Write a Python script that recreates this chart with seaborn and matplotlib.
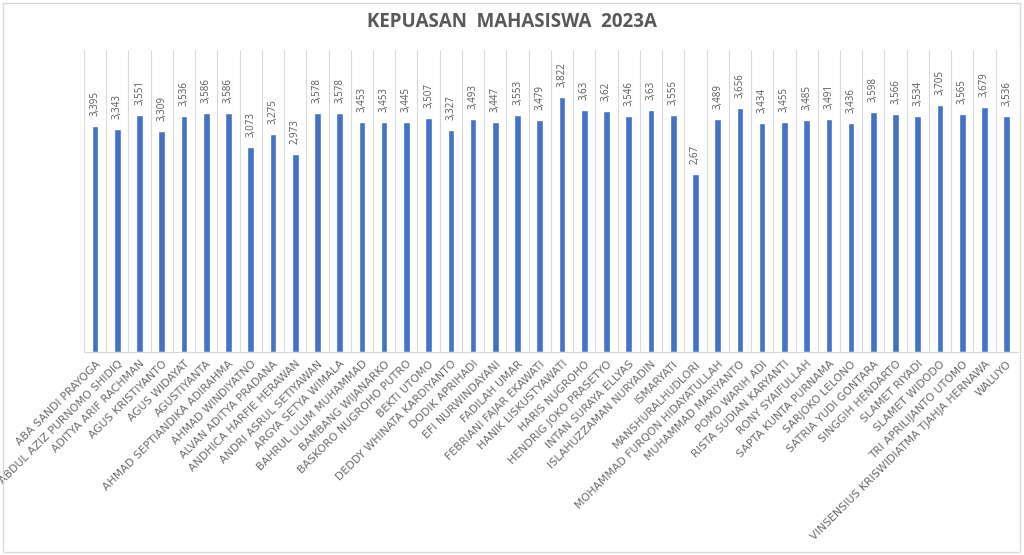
import numpy as np
import pandas as pd
import seaborn as sns
import matplotlib.pyplot as plt
from matplotlib.patches import Rectangle

# data
names = [
    "ABA SANDI PRAYOGA", "ABDUL AZIZ PURNOMO SHIDIQ", "ADITYA ARIF RACHMAN",
    "AGUS KRISTIYANTO", "AGUS WIDAYAT", "AGUSTIYANTA",
    "AHMAD SEPTIANDIKA ADIRAHMA", "AHMAD WINDIYATNO", "ALVAN ADITYA PRADANA",
    "ANDHICA HARFIE HERAWAN", "ANDRI ASRUL SETIYAWAN", "ARGYA SETYA WIMALA",
    "BAHRUL ULUM MUHAMMAD", "BAMBANG WIJANARKO", "BASKORO NUGROHO PUTRO",
    "BEKTI UTOMO", "DEDDY WHINATA KARDIYANTO", "DODIK APRIHADI",
    "EFI NURWINDAYANI", "FADILAH UMAR", "FEBRIANI FAJAR EKAWATI",
    "HANIK LISKUSTYAWATI", "HARIS NUGROHO", "HENDRIG JOKO PRASETYO",
    "INTAN SURAYA ELLYAS", "ISLAHUZZAMAN NURYADIN", "ISMARYATI",
    "MANSHURALHUDLORI", "MOHAMMAD FURQON HIDAYATULLAH", "MUHAMMAD MARIYANTO",
    "POMO WARIH ADI", "RISTA SUDIAN KARYANTI", "RONY SYAIFULLAH",
    "SAPTA KUNTA PURNAMA", "SARJOKO LELONO", "SATRIA YUDI GONTARA",
    "SINGGIH HENDARTO", "SLAMET RIYADI", "SLAMET WIDODO",
    "TRI APRILIJANTO UTOMO", "VINSENSIUS KRISWIDIATMA TJAHJA HERNAWA", "WALUYO",
]
scores = [
    3.395, 3.343, 3.551, 3.309, 3.536, 3.586, 3.586, 3.073, 3.275, 2.973,
    3.578, 3.578, 3.453, 3.453, 3.445, 3.507, 3.327, 3.493, 3.447, 3.553,
    3.479, 3.822, 3.63, 3.62, 3.546, 3.63, 3.555, 2.67, 3.489, 3.656,
    3.434, 3.455, 3.485, 3.491, 3.436, 3.598, 3.566, 3.534, 3.705, 3.565,
    3.679, 3.536,
]
title = "KEPUASAN  MAHASISWA  2023A"

df = pd.DataFrame({"nama": names, "nilai": scores})

sns.set_style("white")
plt.rcParams["font.family"] = ["Open Sans", "DejaVu Sans"]

text_col = "#595959"
fig = plt.figure(figsize=(10.24, 5.55), dpi=100)
ax = fig.add_axes([0.082, 0.366, 0.912, 0.544])

sns.barplot(data=df, x="nama", y="nilai", color="#4472C4", width=0.3,
            saturation=1, ax=ax)

# value labels
for i, v in enumerate(scores):
    ax.text(i, v + 0.15, f"{v:g}".replace(".", ","), rotation=90,
            ha="center", va="bottom", fontsize=7, color=text_col)

ax.set_ylim(0, 4.53)
ax.set_xlim(-0.5, len(names) - 0.5)
ax.set_yticks([])
ax.set_xlabel("")
ax.set_ylabel("")

# gridlines between categories
ax.set_xticks(np.arange(-0.5, len(names), 1), minor=True)
ax.grid(which="minor", axis="x", color="#d9d9d9", linewidth=0.8)
ax.tick_params(axis="x", which="both", length=0, pad=5)
ax.set_axisbelow(True)
plt.setp(ax.get_xticklabels(), rotation=45, ha="right",
         rotation_mode="anchor", fontsize=7.8, color="#6b6b6b",
         family=["DejaVu Sans"])

for s in ["top", "left", "right"]:
    ax.spines[s].set_visible(False)
ax.spines["bottom"].set_color("#d9d9d9")

fig.text(0.5, 0.96, title, ha="center", va="center", fontsize=13.5,
         fontweight="bold", color=text_col)

# chart border
fig.patches.append(Rectangle((0.003, 0.005), 0.993, 0.99,
                             transform=fig.transFigure, fill=False,
                             edgecolor="#d9d9d9", linewidth=1))

fig.savefig("out.png", dpi=100)
